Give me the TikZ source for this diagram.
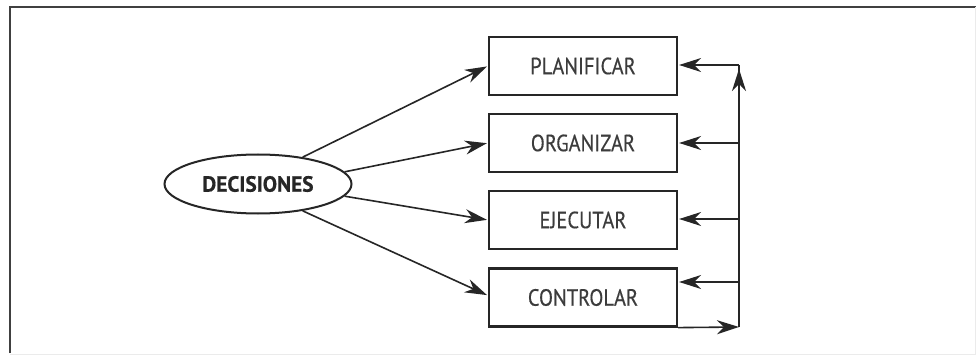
\documentclass[tikz,border=0pt]{standalone}
\usepackage{fontspec}
\setmainfont{PT Sans}
\newfontfamily\condfont[FakeStretch=0.87,FakeBold=0.3]{PT Sans}
\newfontfamily\boldcond[FakeStretch=0.97,FakeBold=0.6]{PT Sans Bold}
\usetikzlibrary{arrows.meta,shapes.geometric,calc}
\definecolor{ink}{HTML}{262626}
\begin{document}
\begin{tikzpicture}[x=1pt,y=-1pt,
  stepbox/.style={draw=ink,line width=2.2pt,minimum width=188pt,minimum height=58pt,inner sep=0pt,
    font=\condfont\fontsize{23.5}{26}\selectfont,text=ink!90},
  arr/.style={draw=ink,line width=1.6pt,shorten >=1pt,-{Stealth[length=22pt,width=14pt,inset=7pt]}},
  ln/.style={draw=ink,line width=1.6pt}]
\useasboundingbox (0,0) rectangle (976,358);
\fill[white] (0,0) rectangle (976,358);
% frame
\draw[line width=2.4pt,draw=black!75] (10,353) -- (10,7) -- (976,7);
\draw[line width=0.6pt,draw=black!8] (10,354) -- (975,354) -- (975,7);
% nodes
\node[ellipse,draw=ink,line width=2pt,minimum width=187pt,minimum height=59pt,inner sep=0pt,
  font=\boldcond\fontsize{22}{26}\selectfont,text=ink] (dec) at (258,184) {DECISIONES};
\node[stepbox] (plan) at (583,66) {PLANIFICAR};
\node[stepbox] (org) at (583,143) {ORGANIZAR};
\node[stepbox] (eje) at (583,220) {EJECUTAR};
\node[stepbox] (ctrl) at (583,297.5) {CONTROLAR};
% coordinates on feedback line
\coordinate (v1) at (739,65);
\coordinate (v2) at (739,143);
\coordinate (v3) at (739,219);
\coordinate (v4) at (739,282);
\coordinate (vb) at (739,327);
\coordinate (vup) at (739,69);
% decision arrows
\draw[arr] (dec.31) -- (plan.west);
\draw[arr] (dec.8) -- (org.west);
\draw[arr] (dec.-8) -- (eje.west);
\draw[arr] (dec.-31) -- ($(ctrl.west)+(0,-2)$);
% feedback
\draw[ln] (vb) -- (v1);
\draw[arr,shorten >=0pt] (vb) -- (vup);
\draw[arr] (v1) -- (v1 -| plan.east);
\draw[arr] (v2) -- (v2 -| org.east);
\draw[arr] (v3) -- (v3 -| eje.east);
\draw[arr] (v4) -- (v4 -| ctrl.east);
\draw[arr,shorten >=0pt] (ctrl.south east) -- (vb);
\end{tikzpicture}
\end{document}
